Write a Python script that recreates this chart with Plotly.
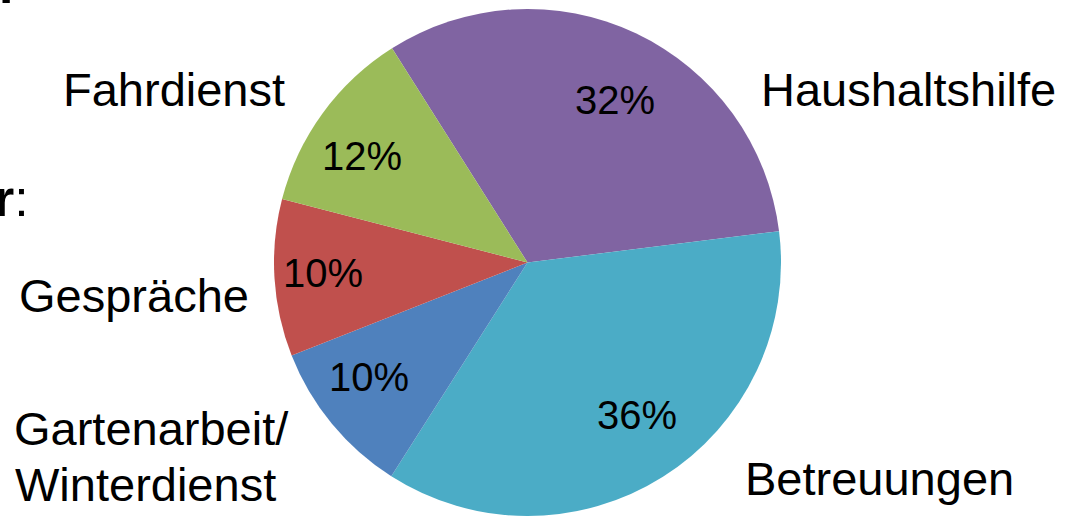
import math
import plotly.graph_objects as go

# Data (order follows the pie clockwise, starting at the Fahrdienst/Haushaltshilfe boundary)
categories = ["Haushaltshilfe", "Betreuungen", "Gartenarbeit/<br>Winterdienst", "Gespräche", "Fahrdienst"]
values = [32, 36, 10, 10, 12]
colors = ["#8064A2", "#4BACC6", "#4F81BD", "#C0504D", "#9BBB59"]

FONT = "Liberation Sans, Arial, sans-serif"
W, H = 1072, 516
ROTATION = -32.3
DOM_X = [274 / W, 781 / W]
DOM_Y = [0, 507 / H]

fig = go.Figure(
    go.Pie(
        labels=categories,
        values=values,
        sort=False,
        direction="clockwise",
        rotation=ROTATION,
        marker=dict(colors=colors, line=dict(width=0)),
        textinfo="none",
        domain=dict(x=DOM_X, y=DOM_Y),
        showlegend=False,
        hoverinfo="label+percent",
    )
)

# percentage labels placed on each slice's mid-angle (derived from the values)
cx_px = (DOM_X[0] + DOM_X[1]) / 2 * W
cy_px = H - (DOM_Y[0] + DOM_Y[1]) / 2 * H
radius_px = min((DOM_X[1] - DOM_X[0]) * W, (DOM_Y[1] - DOM_Y[0]) * H) / 2
total = sum(values)
cum = 0
for v in values:
    mid = math.radians(ROTATION + (cum + v / 2) / total * 360)
    cum += v
    px = cx_px + 0.81 * radius_px * math.sin(mid)
    py = cy_px - 0.71 * radius_px * math.cos(mid)
    fig.add_annotation(
        text=f"{round(v / total * 100)}%",
        x=px / W, y=1 - py / H, xref="paper", yref="paper",
        xanchor="center", yanchor="middle", showarrow=False,
        font=dict(family=FONT, size=40, color="black"),
    )


def ann(text, x_px, y_mid_px, size=47, xanchor="left"):
    fig.add_annotation(
        text=text,
        x=x_px / W,
        y=1 - y_mid_px / H,
        xref="paper",
        yref="paper",
        xanchor=xanchor,
        yanchor="middle",
        showarrow=False,
        align="left",
        font=dict(family=FONT, size=size, color="black"),
    )


ann("Haushaltshilfe", 759, 89.7)
ann("Fahrdienst", 61, 89.4)
ann("Gespräche", 17, 295.7)
ann("Gartenarbeit/", 12, 428.7)
ann("Winterdienst", 13, 484.7)
ann("Betreuungen", 743, 478.7)
# partially visible slide text at the left edge
ann("<b>r</b>:", 31, 198, size=52, xanchor="right")
ann("<b>l:</b>", 17, -15, size=52, xanchor="right")

fig.update_layout(
    width=W,
    height=H,
    margin=dict(l=0, r=0, t=0, b=0),
    paper_bgcolor="white",
    plot_bgcolor="white",
)

fig.write_html("out.html")
